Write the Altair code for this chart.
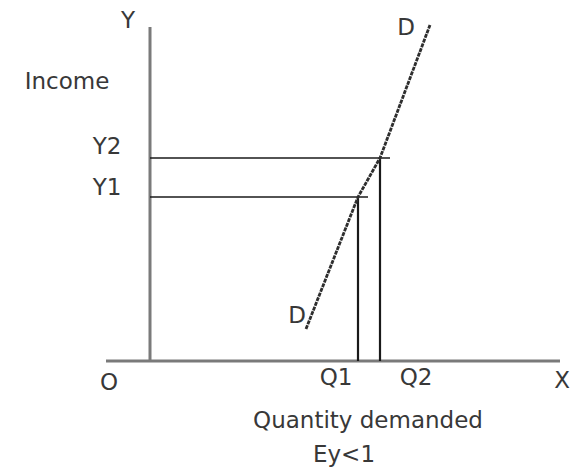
import altair as alt
import pandas as pd

# Income levels Y1, Y2 and the quantities demanded Q1, Q2 at those levels
income_labels = ["Y1", "Y2"]
income_levels = [16.4, 20.3]
quantity_labels = ["Q1", "Q2"]
quantities = [20.8, 23.0]

# Demand curve D: (quantity, income) points
demand_q = [15.6, 20.8, 23.0, 28.0]
demand_y = [3.2, 16.4, 20.3, 33.6]

# Axis extents in chart units
y_axis_top = 33.4
x_axis_left = -4.4
x_axis_right = 41.0

xs = alt.Scale(domain=[-15, 42.4], nice=False, zero=False)
ys = alt.Scale(domain=[-10.9, 36.1], nice=False, zero=False)

def enc_seg():
    return dict(
        x=alt.X("x:Q", scale=xs, axis=None),
        x2="x2:Q",
        y=alt.Y("y:Q", scale=ys, axis=None),
        y2="y2:Q",
    )

# Income (vertical) and quantity (horizontal) axes
axes_df = pd.DataFrame({
    "x": [0, x_axis_left], "x2": [0, x_axis_right],
    "y": [0, 0], "y2": [y_axis_top, 0],
})
axes = alt.Chart(axes_df).mark_rule(color="#7a7a7a", strokeWidth=3).encode(**enc_seg())

# Guide lines from each income level across to the curve, and down to each quantity
h_ends = [q + 1.0 for q in quantities]
hguides_df = pd.DataFrame({
    "x": [0, 0], "x2": h_ends,
    "y": income_levels, "y2": income_levels,
})
vguides_df = pd.DataFrame({
    "x": quantities, "x2": quantities,
    "y": [0, 0], "y2": income_levels,
})
hguides = alt.Chart(hguides_df).mark_rule(color="#1a1a1a", strokeWidth=1.6).encode(**enc_seg())
vguides = alt.Chart(vguides_df).mark_rule(color="#1a1a1a", strokeWidth=2.2).encode(**enc_seg())

demand_df = pd.DataFrame({"q": demand_q, "inc": demand_y, "order": range(len(demand_q))})
demand = alt.Chart(demand_df).mark_line(
    color="#2e2e2e", strokeWidth=2.8, strokeDash=[4, 1]
).encode(
    x=alt.X("q:Q", scale=xs, axis=None),
    y=alt.Y("inc:Q", scale=ys, axis=None),
    order="order:Q",
)

# Text annotations
ann_text = ["Y", "Income", "O", "X", "D", "D", "Quantity demanded", "Ey<1"] + income_labels + quantity_labels
ann_x = [-2.2, -8.3, -4.1, 41.2, 25.6, 14.7, 21.8, 19.4, -4.3, -4.3, 18.6, 26.6]
ann_y = [33.3, 27.2, -2.9, -2.7, 32.6, 3.8, -6.7, -10.1, 16.6, 20.7, -2.4, -2.4]
ann_df = pd.DataFrame({"label": ann_text, "x": ann_x, "y": ann_y})
labels = alt.Chart(ann_df).mark_text(
    font="DejaVu Sans", fontSize=23, color="#383838",
    align="center", baseline="alphabetic",
).encode(
    x=alt.X("x:Q", scale=xs, axis=None),
    y=alt.Y("y:Q", scale=ys, axis=None),
    text="label:N",
)

chart = alt.layer(axes, hguides, vguides, demand, labels).properties(
    width=574, height=470,
    autosize=alt.AutoSizeParams(type="none"),
    padding=0,
    background="white",
).configure_view(stroke=None)

chart.save("out.html", embed_options={"renderer": "svg", "actions": False})
